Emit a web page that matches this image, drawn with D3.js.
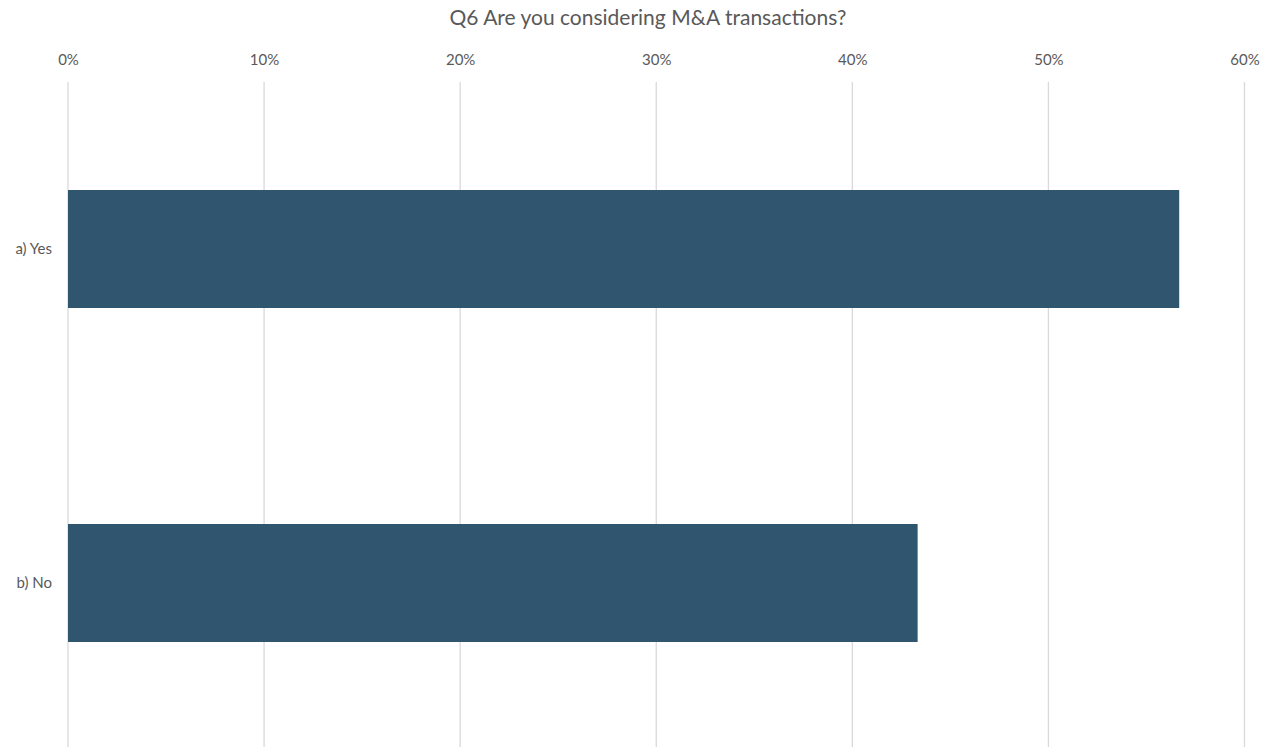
<!DOCTYPE html>
<html>
<head>
<meta charset="utf-8">
<script src="https://cdn.jsdelivr.net/npm/d3@7"></script>
<style>
  body { margin: 0; background: #fff; }
  svg { display: block; }
  text { font-family: Lato, "Open Sans", sans-serif; fill: #595959; }
</style>
</head>
<body>
<svg width="1271" height="747"></svg>
<script>
const categories = ["a) Yes", "b) No"];
const values = [0.5667, 0.4333];
const tickValues = [0, 0.1, 0.2, 0.3, 0.4, 0.5, 0.6];
const title = "Q6 Are you considering M&A transactions?";

function main(){
  const svg = d3.select("svg");
  const left = 68, right = 1244.5, top = 82, bottom = 750;

  const xScale = d3.scaleLinear().domain([0, 0.6]).range([left, right]);
  const gap = 1 - 118 / 334;
  const yScale = d3.scaleBand().domain(categories).range([top, bottom])
    .paddingInner(gap).paddingOuter(gap / 2);

  // title
  svg.append("text")
    .attr("x", 648).attr("y", 25)
    .attr("text-anchor", "middle")
    .style("font-size", "21px")
    .text(title);

  // gridlines
  svg.append("g").selectAll("line").data(tickValues).enter().append("line")
    .attr("x1", d => xScale(d)).attr("x2", d => xScale(d))
    .attr("y1", top).attr("y2", bottom)
    .attr("stroke", "#d9d9d9").attr("stroke-width", 1.3);

  // top axis labels
  const xAxis = d3.axisTop(xScale).tickValues(tickValues).tickFormat(d3.format(".0%")).tickSize(0).tickPadding(0);
  const gx = svg.append("g").attr("transform", "translate(0, 65)").call(xAxis);
  gx.select(".domain").remove();
  gx.selectAll("text").style("font-size", "15px").attr("fill", "#595959");

  // bars
  svg.append("g").selectAll("rect").data(values).enter().append("rect")
    .attr("x", xScale(0))
    .attr("y", (d, i) => yScale(categories[i]))
    .attr("width", d => xScale(d) - xScale(0))
    .attr("height", yScale.bandwidth())
    .attr("fill", "#30566f");

  // category axis
  const yAxis = d3.axisLeft(yScale).tickSize(0).tickPadding(16);
  const gy = svg.append("g").attr("transform", `translate(${left}, 0)`).call(yAxis);
  gy.select(".domain").remove();
  gy.selectAll("text").style("font-size", "15px").attr("fill", "#595959");
}

main();
</script>
</body>
</html>
